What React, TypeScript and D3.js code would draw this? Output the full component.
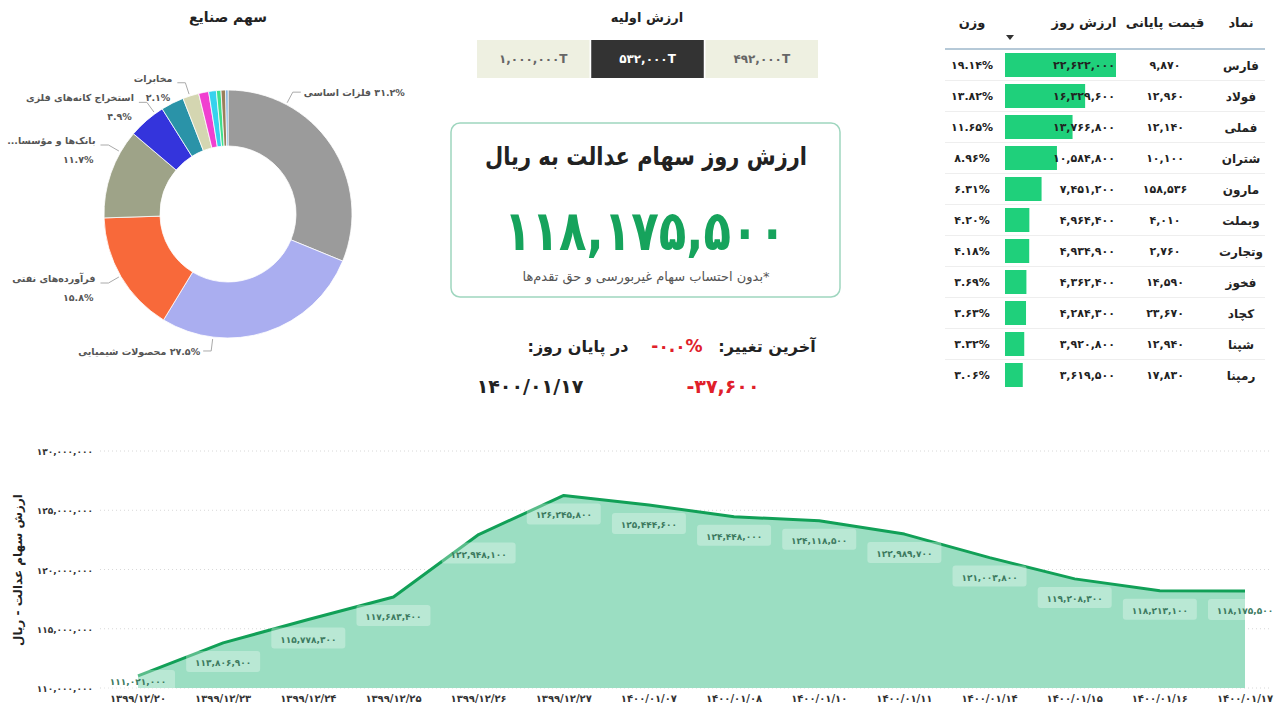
import React, { useEffect, useRef } from 'react';
import * as d3 from 'd3';

// line chart
const dates = ['1399/12/20', '1399/12/23', '1399/12/24', '1399/12/25', '1399/12/26', '1399/12/27', '1400/01/07',
    '1400/01/08', '1400/01/10', '1400/01/11', '1400/01/14', '1400/01/15', '1400/01/16', '1400/01/17'];
const dailyValues = [111021000, 113806900, 115778300, 117683400, 122948100, 126245800, 125444600,
    124448000, 124118500, 122989700, 121003800, 119208300, 118213100, 118175500];
const yTicks = [110000000, 115000000, 120000000, 125000000, 130000000];

// table
const symbols = ['فارس', 'فولاد', 'فملی', 'شتران', 'مارون', 'وبملت', 'وتجارت', 'فخوز', 'کچاد', 'شپنا', 'رمپنا'];
const closePrices = [9870, 12960, 12140, 10100, 158536, 4010, 2760, 14590, 23670, 12940, 17830];
const dayValues = [22622000, 16329600, 13766800, 10584800, 7451200, 4964400, 4934900, 4362400, 4284300, 3920800, 3619500];
const weights = [19.14, 13.82, 11.65, 8.96, 6.31, 4.20, 4.18, 3.69, 3.63, 3.32, 3.06];

// pie
const sectorNames = ['فلزات اساسی', 'محصولات شیمیایی', 'فرآورده‌های نفتی', '...بانک‌ها و مؤسسا', 'استخراج کانه‌های فلزی',
    'سرمایه‌گذاری‌ها', 'مخابرات', 'خودرو', 'سیمان', 'دارویی', 'حمل و نقل', 'سایر'];
const sectorShares = [31.2, 27.5, 15.8, 11.7, 4.9, 3.0, 2.1, 1.3, 1.0, 0.6, 0.6, 0.3];
const sectorColors = ['#9b9b9b', '#aaaef0', '#f8693a', '#9ea388', '#3434dc', '#2a93a8', '#d4d6b1', '#f040d0', '#36d2ee', '#3ee08d', '#9a7e5c', '#72a9dd'];

// header figures
const initialValues = [1000000, 532000, 492000];
const selectedInitial = 532000;
const lastValue = 118175500;
const lastChange = -37600;
const lastChangePct = '-0.0%';
const lastDate = '1400/01/17';

const FONT = "'DejaVu Sans', sans-serif";
const DARK = '#222';

const fa = (s: string | number) => String(s).replace(/[0-9]/g, d => '۰۱۲۳۴۵۶۷۸۹'[+d]);
const num = (v: number) => fa(d3.format(',')(v));

const App: React.FC = () => {
    const svgRef = useRef<SVGSVGElement>(null);
    const width = 1280;
    const height = 708;

    useEffect(() => {
        if (!svgRef.current) return;
        const svg = d3.select(svgRef.current);
        svg.selectAll('*').remove();
        svg.attr('font-family', FONT);

        // ---------- pie ----------
        const cx = 228, cy = 214, outerR = 124, innerR = 68;
        svg.append('text')
            .attr('x', cx).attr('y', 22)
            .attr('text-anchor', 'middle')
            .attr('font-size', 14).attr('font-weight', 'bold').attr('fill', DARK)
            .text('سهم صنایع');

        const pie = d3.pie<number>().sort(null).value(d => d);
        const arcs = pie(sectorShares);
        const arc = d3.arc<d3.PieArcDatum<number>>().innerRadius(innerR).outerRadius(outerR);
        const pg = svg.append('g').attr('transform', `translate(${cx},${cy})`);
        pg.selectAll('path').data(arcs).join('path')
            .attr('d', arc)
            .attr('fill', (d, i) => sectorColors[i])
            .attr('stroke', '#fff').attr('stroke-width', 0.8);

        // label layout: leader angle (deg), side
        const labelLayout = [
            { i: 0, angle: 28, side: 'right' },
            { i: 1, angle: 187, side: 'bottom' },
            { i: 2, angle: 240, side: 'left' },
            { i: 3, angle: 300, side: 'left' },
            { i: 4, angle: 324, side: 'left' },
            { i: 6, angle: 342, side: 'left' },
        ];
        labelLayout.forEach(l => {
            const a = (l.angle * Math.PI) / 180;
            const p0 = [Math.sin(a) * (outerR + 2), -Math.cos(a) * (outerR + 2)];
            const p1 = [Math.sin(a) * (outerR + 14), -Math.cos(a) * (outerR + 14)];
            const dir = l.side === 'right' ? 1 : -1;
            const p2 = [p1[0] + dir * 8, p1[1]];
            pg.append('polyline')
                .attr('points', [p0, p1, p2].map(p => p.join(',')).join(' '))
                .attr('fill', 'none').attr('stroke', '#aaa').attr('stroke-width', 1);
            const name = sectorNames[l.i];
            const pct = fa(sectorShares[l.i].toFixed(1)) + '%';
            if (l.side === 'right') {
                pg.append('text')
                    .attr('x', p2[0] + 3).attr('y', p2[1] + 4)
                    .attr('direction', 'rtl').attr('text-anchor', 'end')
                    .attr('font-size', 9.5).attr('font-weight', 'bold').attr('fill', '#555')
                    .text(`${pct} ${name}`);
            } else if (l.side === 'bottom') {
                pg.append('text')
                    .attr('x', p2[0] - 3).attr('y', p2[1] + 4)
                    .attr('direction', 'rtl').attr('text-anchor', 'start')
                    .attr('font-size', 9.5).attr('font-weight', 'bold').attr('fill', '#555')
                    .text(`${pct} ${name}`);
            } else {
                pg.append('text')
                    .attr('x', p2[0] - 5).attr('y', p2[1] - 1)
                    .attr('text-anchor', 'end')
                    .attr('font-size', 9.5).attr('font-weight', 'bold').attr('fill', '#555')
                    .text(name);
                pg.append('text')
                    .attr('x', p2[0] - 7).attr('y', p2[1] + 18)
                    .attr('text-anchor', 'end')
                    .attr('font-size', 9.5).attr('font-weight', 'bold').attr('fill', '#555')
                    .text(pct);
            }
        });

        // ---------- initial value tabs ----------
        svg.append('text')
            .attr('x', 647).attr('y', 22)
            .attr('text-anchor', 'middle')
            .attr('font-size', 13).attr('font-weight', 'bold').attr('fill', DARK)
            .text('ارزش اولیه');
        const tabX = d3.scaleBand<number>().domain(d3.range(initialValues.length)).range([477, 818]).paddingInner(0.015);
        initialValues.forEach((v, i) => {
            const sel = v === selectedInitial;
            svg.append('rect')
                .attr('x', tabX(i)!).attr('y', 40)
                .attr('width', tabX.bandwidth()).attr('height', 38)
                .attr('fill', sel ? '#333' : '#eef0e1');
            svg.append('text')
                .attr('x', tabX(i)! + tabX.bandwidth() / 2).attr('y', 63)
                .attr('text-anchor', 'middle')
                .attr('font-size', 12).attr('font-weight', 'bold')
                .attr('fill', sel ? '#fff' : '#666')
                .text(num(v) + 'T');
        });

        // ---------- value box ----------
        svg.append('rect')
            .attr('x', 451).attr('y', 123).attr('width', 389).attr('height', 174)
            .attr('rx', 9)
            .attr('fill', '#fff').attr('stroke', '#9fd6bf').attr('stroke-width', 1.5);
        svg.append('text')
            .attr('x', 646).attr('y', 165)
            .attr('text-anchor', 'middle')
            .attr('font-size', 25).attr('font-weight', 'bold').attr('fill', DARK)
            .attr('textLength', 322).attr('lengthAdjust', 'spacingAndGlyphs')
            .text('ارزش روز سهام عدالت به ریال');
        svg.append('text')
            .attr('x', 645).attr('y', 250)
            .attr('text-anchor', 'middle')
            .attr('font-size', 56).attr('font-weight', 'bold').attr('fill', '#16a35c')
            .attr('textLength', 282).attr('lengthAdjust', 'spacingAndGlyphs')
            .text(num(lastValue));
        svg.append('text')
            .attr('x', 646).attr('y', 281)
            .attr('direction', 'rtl')
            .attr('text-anchor', 'middle')
            .attr('font-size', 13).attr('fill', '#555')
            .text('*بدون احتساب سهام غیربورسی و حق تقدم‌ها');

        // ---------- last change ----------
        svg.append('text')
            .attr('x', 767).attr('y', 352)
            .attr('direction', 'rtl').attr('text-anchor', 'middle')
            .attr('font-size', 16).attr('font-weight', 'bold').attr('fill', DARK)
            .text('آخرین تغییر:');
        svg.append('text')
            .attr('x', 677).attr('y', 352)
            .attr('text-anchor', 'middle')
            .attr('font-size', 17).attr('font-weight', 'bold').attr('fill', '#e0202a')
            .text(fa(lastChangePct));
        svg.append('text')
            .attr('x', 578).attr('y', 352)
            .attr('direction', 'rtl').attr('text-anchor', 'middle')
            .attr('font-size', 16).attr('font-weight', 'bold').attr('fill', DARK)
            .text('در پایان روز:');
        svg.append('text')
            .attr('x', 723).attr('y', 393)
            .attr('text-anchor', 'middle')
            .attr('font-size', 19).attr('font-weight', 'bold').attr('fill', '#e0202a')
            .text('-' + num(Math.abs(lastChange)));
        svg.append('text')
            .attr('x', 530).attr('y', 393)
            .attr('text-anchor', 'middle')
            .attr('font-size', 19).attr('font-weight', 'bold').attr('fill', DARK)
            .text(fa(lastDate));

        // ---------- table ----------
        const rowY = d3.scalePoint<number>().domain(d3.range(symbols.length)).range([65, 375]);
        const barW = d3.scaleLinear().domain([0, d3.max(dayValues)!]).range([0, 111]);
        const headers = [
            { t: 'نماد', x: 1241 },
            { t: 'قیمت پایانی', x: 1165 },
            { t: 'ارزش روز', x: 1084 },
            { t: 'وزن', x: 972 },
        ];
        headers.forEach(h => {
            svg.append('text')
                .attr('x', h.x).attr('y', 27)
                .attr('text-anchor', 'middle')
                .attr('font-size', 13).attr('font-weight', 'bold').attr('fill', DARK)
                .text(h.t);
        });
        svg.append('path').attr('d', 'M1006,35 l8,0 l-4,5 z').attr('fill', '#333');
        svg.append('line')
            .attr('x1', 945).attr('x2', 1265).attr('y1', 49).attr('y2', 49)
            .attr('stroke', '#6d93b0').attr('stroke-width', 1);

        symbols.forEach((s, i) => {
            const y = rowY(i)!;
            if (i < symbols.length - 1) {
                svg.append('line')
                    .attr('x1', 945).attr('x2', 1265).attr('y1', y + 15.5).attr('y2', y + 15.5)
                    .attr('stroke', '#eee');
            }
            svg.append('rect')
                .attr('x', 1005).attr('y', y - 12)
                .attr('width', barW(dayValues[i])).attr('height', 24)
                .attr('fill', '#1fd07b');
            svg.append('text')
                .attr('x', 1241).attr('y', y + 5)
                .attr('text-anchor', 'middle')
                .attr('font-size', 12).attr('font-weight', 'bold').attr('fill', DARK)
                .text(s);
            svg.append('text')
                .attr('x', 1165).attr('y', y + 4)
                .attr('text-anchor', 'middle')
                .attr('font-size', 11).attr('font-weight', 'bold').attr('fill', DARK)
                .text(num(closePrices[i]));
            svg.append('text')
                .attr('x', 1115).attr('y', y + 4)
                .attr('text-anchor', 'end')
                .attr('font-size', 11).attr('font-weight', 'bold').attr('fill', DARK)
                .text(num(dayValues[i]));
            svg.append('text')
                .attr('x', 972).attr('y', y + 4)
                .attr('text-anchor', 'middle')
                .attr('font-size', 11).attr('font-weight', 'bold').attr('fill', DARK)
                .text(fa(weights[i].toFixed(2)) + '%');
        });

        // ---------- line chart ----------
        const x = d3.scalePoint<string>().domain(dates).range([138, 1245]);
        const y = d3.scaleLinear().domain([110000000, 130000000]).range([688, 451]);
        const lc = svg.append('g');

        lc.append('g')
            .selectAll('line').data(yTicks).join('line')
            .attr('x1', 100).attr('x2', 1272)
            .attr('y1', d => y(d)).attr('y2', d => y(d))
            .attr('stroke', '#d8d8d8').attr('stroke-dasharray', '1,3');

        lc.append('g')
            .selectAll('text').data(yTicks).join('text')
            .attr('x', 93).attr('y', d => y(d) + 4)
            .attr('text-anchor', 'end')
            .attr('font-size', 9).attr('font-weight', 'bold').attr('fill', '#333')
            .text(d => num(d));

        lc.append('text')
            .attr('transform', `translate(22,${570}) rotate(-90)`)
            .attr('direction', 'rtl').attr('text-anchor', 'middle')
            .attr('font-size', 12).attr('font-weight', 'bold').attr('fill', DARK)
            .text('ارزش سهام عدالت - ریال');

        const area = d3.area<number>()
            .x((d, i) => x(dates[i])!)
            .y0(y(110000000))
            .y1(d => y(d));
        const line = d3.line<number>()
            .x((d, i) => x(dates[i])!)
            .y(d => y(d));

        lc.append('path').datum(dailyValues)
            .attr('fill', '#9bdec2').attr('d', area);
        lc.append('path').datum(dailyValues)
            .attr('fill', 'none').attr('stroke', '#11a057').attr('stroke-width', 3)
            .attr('stroke-linejoin', 'round')
            .attr('d', line);

        const labels = lc.append('g');
        dailyValues.forEach((v, i) => {
            const px = x(dates[i])!;
            const ly = Math.min(y(v) + 19, 681);
            labels.append('rect')
                .attr('x', px - 37).attr('y', ly - 11)
                .attr('width', 74).attr('height', 21).attr('rx', 3)
                .attr('fill', '#fff').attr('fill-opacity', 0.3);
            labels.append('text')
                .attr('x', px).attr('y', ly + 4)
                .attr('text-anchor', 'middle')
                .attr('font-size', 9).attr('font-weight', 'bold').attr('fill', '#3d7a60')
                .text(num(v));
        });

        lc.append('g')
            .selectAll('text').data(dates).join('text')
            .attr('x', d => x(d)!).attr('y', 702)
            .attr('text-anchor', 'middle')
            .attr('font-size', 10).attr('font-weight', 'bold').attr('fill', '#333')
            .text(d => fa(d));
    }, []);

    return (
        <svg ref={svgRef} width={width} height={height}
            style={{ position: 'absolute', left: 0, top: 0, background: '#fff' }}></svg>
    );
};

export default App;
